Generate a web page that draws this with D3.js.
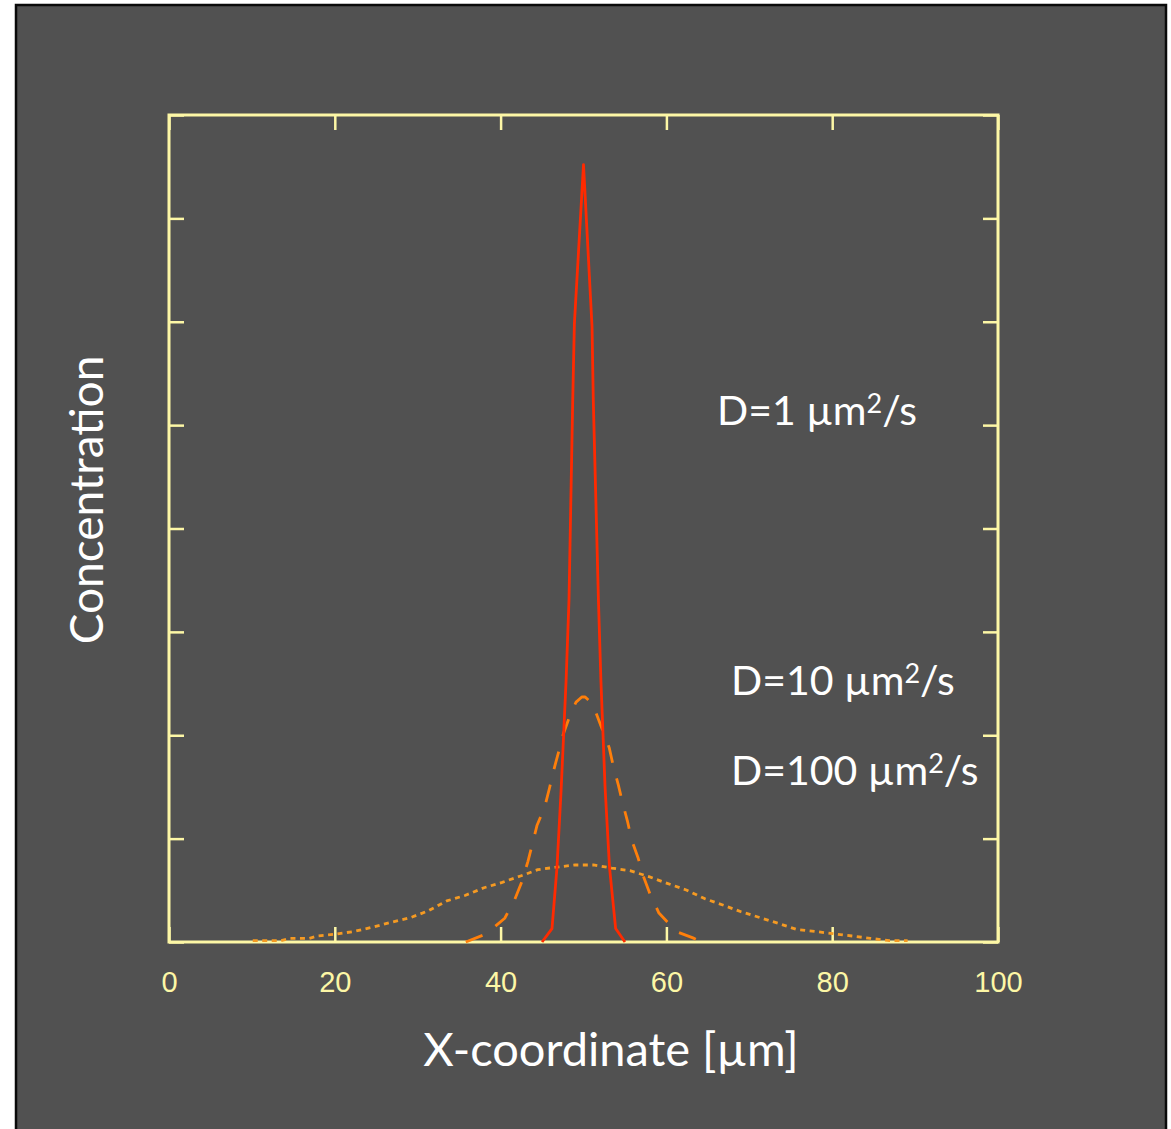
<!DOCTYPE html>
<html>
<head>
<meta charset="utf-8">
<script src="https://cdn.jsdelivr.net/npm/d3@7"></script>
<style>
  html, body { margin: 0; padding: 0; background: #ffffff; }
  svg { display: block; }
</style>
</head>
<body>
<svg id="chart" width="1171" height="1129"></svg>
<script>
// Concentration profiles of a diffusing pulse, same elapsed time, three diffusivities.
// x in micrometres, concentration in arbitrary units.

const xTicks = [0, 20, 40, 60, 80, 100];
const yTicks = [0, 1, 2, 3, 4, 5, 6, 7, 8];

// D = 1 µm²/s
const d1X = [45.0, 46.2, 46.8, 47.3, 47.9, 48.25, 48.7, 48.9, 50.0, 51.03, 51.18, 51.8, 52.1, 52.6, 53.14, 53.88, 55.0];
const d1Y = [0.0, 0.13, 0.72, 1.47, 2.53, 3.31, 5.24, 5.98, 7.52, 5.95, 5.24, 3.31, 2.53, 1.5, 0.72, 0.13, 0.0];

// D = 10 µm²/s
const d10X = [35.8, 38.3, 40.5, 41.7, 42.55, 43.3, 43.9, 44.4, 45.3, 45.9, 46.4, 47.0, 47.6, 48.4, 49.1, 49.8, 50.2, 51.0, 51.4, 52.2, 53.1, 53.6, 54.2, 54.7, 55.3, 55.8, 56.6, 57.2, 58.0, 59.1, 61.2, 63.2, 64.0];
const d10Y = [0.0, 0.08, 0.23, 0.41, 0.58, 0.78, 0.97, 1.13, 1.30, 1.49, 1.66, 1.84, 2.02, 2.20, 2.32, 2.37, 2.37, 2.31, 2.24, 2.07, 1.88, 1.70, 1.52, 1.35, 1.17, 0.99, 0.81, 0.64, 0.47, 0.28, 0.10, 0.04, 0.01];

// D = 100 µm²/s
const d100X = [10.1, 13.5, 14.6, 16.9, 17.9, 20.2, 22.4, 24.6, 26.9, 29.1, 31.3, 33.5, 35.7, 38.0, 40.2, 42.4, 44.5, 46.8, 49.0, 51.2, 53.4, 55.6, 57.8, 60.1, 62.4, 64.6, 66.8, 69.0, 71.3, 73.5, 75.7, 77.9, 80.1, 82.4, 84.6, 86.9, 89.1];
const d100Y = [0.013, 0.013, 0.035, 0.035, 0.058, 0.077, 0.103, 0.145, 0.193, 0.235, 0.302, 0.397, 0.45, 0.525, 0.577, 0.638, 0.70, 0.725, 0.745, 0.745, 0.715, 0.69, 0.635, 0.567, 0.503, 0.42, 0.358, 0.293, 0.235, 0.18, 0.122, 0.103, 0.080, 0.058, 0.035, 0.013, 0.013];

const labelTexts = ["D=1 \u00b5m", "D=10 \u00b5m", "D=100 \u00b5m"];

const svg = d3.select("#chart");
const W = 1171, H = 1129;

// panel
svg.append("rect")
  .attr("x", 16).attr("y", 5).attr("width", 1150).attr("height", H)
  .attr("fill", "#515151").attr("stroke", "#0a0a0a").attr("stroke-width", 2.5);

const plot = { left: 169, top: 115, right: 998, bottom: 942 };
const x = d3.scaleLinear().domain([0, 100]).range([plot.left, plot.right]);
const y = d3.scaleLinear().domain([0, 8]).range([plot.bottom, plot.top]);

const axisColor = "#fdf7a6";
const tickLen = 15;

function styleAxis(g) {
  g.select(".domain").remove();
  g.selectAll(".tick line").attr("stroke", axisColor).attr("stroke-width", 2.5);
  g.selectAll(".tick text").attr("fill", axisColor)
    .style("font-family", "Liberation Sans, Arial, sans-serif").style("font-size", "29px");
}

svg.append("g").attr("transform", `translate(0,${plot.bottom})`)
  .call(d3.axisBottom(x).tickValues(xTicks).tickSize(-tickLen).tickPadding(29).tickFormat(d3.format("d")))
  .call(styleAxis);
svg.append("g").attr("transform", `translate(0,${plot.top})`)
  .call(d3.axisTop(x).tickValues(xTicks).tickSize(-tickLen).tickFormat(""))
  .call(styleAxis);
svg.append("g").attr("transform", `translate(${plot.left},0)`)
  .call(d3.axisLeft(y).tickValues(yTicks).tickSize(-tickLen).tickFormat(""))
  .call(styleAxis);
svg.append("g").attr("transform", `translate(${plot.right},0)`)
  .call(d3.axisRight(y).tickValues(yTicks).tickSize(-tickLen).tickFormat(""))
  .call(styleAxis);

// frame
svg.append("rect")
  .attr("x", plot.left).attr("y", plot.top)
  .attr("width", plot.right - plot.left).attr("height", plot.bottom - plot.top)
  .attr("fill", "none").attr("stroke", axisColor).attr("stroke-width", 3);

const line = d3.line().x(d => x(d[0])).y(d => y(d[1]));

const series = [
  { xs: d100X, ys: d100Y, color: "#f59a22", width: 2.8, dash: "5,4.5" },
  { xs: d10X, ys: d10Y, color: "#ff7f0a", width: 2.8, dash: "18,16" },
  { xs: d1X, ys: d1Y, color: "#ff2a00", width: 2.8, dash: null }
];

series.forEach(s => {
  svg.append("path")
    .datum(d3.zip(s.xs, s.ys))
    .attr("d", line)
    .attr("fill", "none")
    .attr("stroke", s.color)
    .attr("stroke-width", s.width)
    .attr("stroke-linejoin", "round")
    .attr("stroke-dasharray", s.dash);
});

// curve labels
const labelFont = "Lato, 'Open Sans', sans-serif";
const labelPos = [[717, 425], [731, 695], [731, 785]];
labelTexts.forEach((t, i) => {
  const tx = svg.append("text")
    .attr("x", labelPos[i][0]).attr("y", labelPos[i][1])
    .attr("fill", "#ffffff")
    .style("font-family", labelFont).style("font-size", "41px");
  tx.append("tspan").text(t);
  tx.append("tspan").attr("font-size", "27px").attr("dy", "-12").text("2");
  tx.append("tspan").attr("dy", "12").text("/s");
});

// axis titles
svg.append("text")
  .attr("x", 611).attr("y", 1066)
  .attr("text-anchor", "middle").attr("fill", "#ffffff")
  .style("font-family", labelFont).style("font-size", "47px")
  .text("X-coordinate [\u00b5m]");

svg.append("text")
  .attr("transform", "translate(103,500) rotate(-90)")
  .attr("text-anchor", "middle").attr("fill", "#ffffff")
  .style("font-family", labelFont).style("font-size", "46px")
  .text("Concentration");
</script>
</body>
</html>
